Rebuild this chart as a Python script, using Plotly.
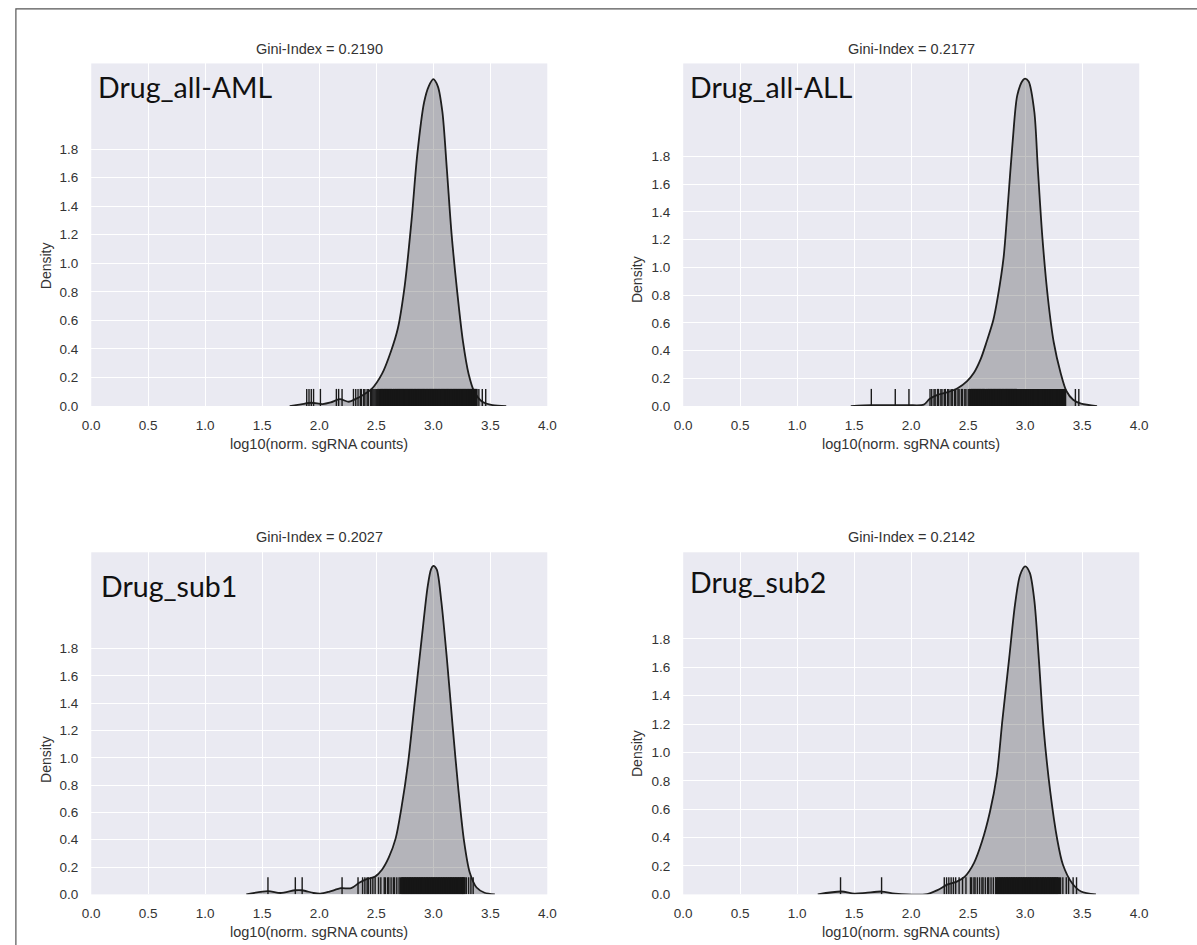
import plotly.graph_objects as go

W, H = 1197, 945

# ---------------- data ----------------
panel_labels = ["Drug_all-AML", "Drug_all-ALL", "Drug_sub1", "Drug_sub2"]
gini_values = ["0.2190", "0.2177", "0.2027", "0.2142"]

x_ticks = [0.0, 0.5, 1.0, 1.5, 2.0, 2.5, 3.0, 3.5, 4.0]
y_ticks = [0.0, 0.2, 0.4, 0.6, 0.8, 1.0, 1.2, 1.4, 1.6, 1.8]

# KDE curves
kde_x_aml = [1.74, 1.84, 1.93, 2.03, 2.10, 2.18, 2.26, 2.32, 2.38, 2.46, 2.55, 2.63, 2.69, 2.75, 2.81,
             2.86, 2.92, 2.96, 3.00, 3.04, 3.08, 3.12, 3.16, 3.21, 3.26, 3.31, 3.36, 3.43, 3.52, 3.64]
kde_y_aml = [0.0, 0.012, 0.023, 0.014, 0.025, 0.048, 0.030, 0.050, 0.076, 0.12, 0.225, 0.386, 0.547, 0.846, 1.306,
             1.766, 2.13, 2.24, 2.29, 2.24, 2.06, 1.65, 1.21, 0.80, 0.455, 0.225, 0.10, 0.03, 0.007, 0.0]

kde_x_all = [1.47, 1.65, 1.86, 1.98, 2.11, 2.16, 2.23, 2.32, 2.41, 2.49, 2.55, 2.61, 2.66, 2.72, 2.76,
             2.81, 2.85, 2.89, 2.93, 2.98, 3.00, 3.03, 3.08, 3.11, 3.15, 3.20, 3.25, 3.31, 3.36, 3.42, 3.49, 3.63]
kde_y_all = [0.0, 0.006, 0.006, 0.006, 0.01, 0.05, 0.08, 0.10, 0.13, 0.18, 0.24, 0.34, 0.46, 0.62, 0.79,
             1.07, 1.48, 1.91, 2.24, 2.35, 2.36, 2.34, 2.12, 1.72, 1.22, 0.77, 0.46, 0.24, 0.11, 0.045, 0.017, 0.0]

kde_x_sub1 = [1.36, 1.55, 1.66, 1.79, 1.85, 1.95, 2.01, 2.09, 2.19, 2.28, 2.35, 2.41, 2.49, 2.55, 2.61, 2.67,
              2.72, 2.78, 2.84, 2.90, 2.95, 2.98, 3.00, 3.03, 3.07, 3.12, 3.17, 3.22, 3.27, 3.32, 3.38, 3.45, 3.54]
kde_y_sub1 = [0.0, 0.024, 0.01, 0.03, 0.03, 0.01, 0.005, 0.02, 0.045, 0.045, 0.085, 0.11, 0.13, 0.18, 0.27, 0.41,
              0.63, 0.97, 1.43, 1.885, 2.25, 2.38, 2.405, 2.38, 2.15, 1.72, 1.23, 0.77, 0.39, 0.16, 0.05, 0.012, 0.0]

kde_x_sub2 = [1.18, 1.385, 1.50, 1.60, 1.74, 1.86, 2.14, 2.23, 2.32, 2.40, 2.47, 2.55, 2.62, 2.69, 2.75, 2.80,
              2.86, 2.91, 2.955, 3.00, 3.04, 3.08, 3.12, 3.16, 3.22, 3.28, 3.33, 3.41, 3.49, 3.62]
kde_y_sub2 = [0.0, 0.02, 0.005, 0.01, 0.02, 0.005, 0.002, 0.03, 0.07, 0.09, 0.125, 0.22, 0.37, 0.58, 0.835, 1.23,
              1.67, 2.04, 2.25, 2.31, 2.265, 2.07, 1.65, 1.18, 0.72, 0.39, 0.21, 0.08, 0.02, 0.0]

# rug positions: sparse tail ticks and the dense central block
rug_aml_sparse = [1.89, 1.91, 1.93, 1.95, 2.01, 2.15, 2.17, 2.20, 2.30, 2.32, 2.34, 2.36, 2.37, 2.39,
                  2.40, 2.42, 2.43, 2.45, 2.46, 2.47, 2.48, 2.49, 2.50, 2.51, 2.52, 3.40, 3.43, 3.46]
rug_aml_dense = [2.535, 2.55, 2.565, 2.58, 2.595, 2.61, 2.625, 2.64, 2.66, 2.675, 2.69, 2.705, 2.72, 2.735,
                 2.75, 2.765, 2.78, 2.795, 2.81, 2.825, 2.84, 2.855, 2.87, 2.885, 2.90, 2.915, 2.93, 2.945,
                 2.96, 2.975, 2.99, 3.005, 3.02, 3.035, 3.05, 3.065, 3.08, 3.095, 3.11, 3.125, 3.14, 3.155,
                 3.17, 3.185, 3.20, 3.215, 3.23, 3.245, 3.26, 3.275, 3.29, 3.305, 3.32, 3.335, 3.35, 3.365,
                 3.375]

rug_all_sparse = [1.65, 1.86, 1.98, 2.165, 2.18, 2.20, 2.21, 2.23, 2.24, 2.26, 2.27, 2.29, 2.30, 2.32,
                  2.33, 2.35, 2.36, 2.38, 2.39, 2.41, 2.42, 2.44, 2.45, 2.47, 2.48, 2.50, 2.51, 3.44, 3.47]
rug_all_dense = [2.525, 2.54, 2.555, 2.57, 2.585, 2.60, 2.615, 2.63, 2.645, 2.67, 2.685, 2.70, 2.715, 2.73,
                 2.745, 2.76, 2.775, 2.79, 2.805, 2.82, 2.835, 2.85, 2.865, 2.88, 2.895, 2.91, 2.925, 2.94,
                 2.955, 2.97, 2.985, 3.00, 3.015, 3.03, 3.045, 3.06, 3.075, 3.09, 3.105, 3.12, 3.135, 3.15,
                 3.165, 3.18, 3.195, 3.21, 3.225, 3.24, 3.255, 3.27, 3.285, 3.30, 3.315, 3.33, 3.345]

rug_sub1_sparse = [1.55, 1.79, 1.85, 2.20, 2.34, 2.38, 2.40, 2.42, 2.43, 2.45, 2.47, 2.49, 2.52, 2.54,
                   2.57, 2.58, 2.60, 2.61, 2.63, 2.65, 2.66, 2.68, 2.70, 3.29, 3.31, 3.33, 3.35]
rug_sub1_dense = [2.72, 2.735, 2.75, 2.765, 2.78, 2.795, 2.81, 2.825, 2.84, 2.855, 2.87, 2.885, 2.90, 2.915,
                  2.93, 2.945, 2.96, 2.975, 2.99, 3.005, 3.02, 3.035, 3.05, 3.065, 3.08, 3.095, 3.11, 3.125,
                  3.14, 3.155, 3.17, 3.185, 3.20, 3.215, 3.23, 3.245, 3.26, 3.27]

rug_sub2_sparse = [1.38, 1.74, 2.29, 2.31, 2.33, 2.35, 2.37, 2.39, 2.42, 2.45, 2.48, 2.52, 2.53, 2.55, 2.56,
                   2.58, 2.60, 2.62, 2.63, 2.65, 2.67, 2.68, 2.70, 2.72, 2.74, 3.31, 3.33, 3.36, 3.38, 3.42, 3.45]
rug_sub2_dense = [2.75, 2.765, 2.78, 2.795, 2.81, 2.825, 2.84, 2.855, 2.87, 2.885, 2.90, 2.915, 2.93, 2.945,
                  2.96, 2.975, 2.99, 3.005, 3.02, 3.035, 3.05, 3.065, 3.08, 3.095, 3.11, 3.125, 3.14, 3.155,
                  3.17, 3.185, 3.20, 3.215, 3.23, 3.245, 3.26, 3.275, 3.29]

y_max = [2.40, 2.47, 2.505, 2.41]

kde_x = [kde_x_aml, kde_x_all, kde_x_sub1, kde_x_sub2]
kde_y = [kde_y_aml, kde_y_all, kde_y_sub1, kde_y_sub2]
rugs_sparse = [rug_aml_sparse, rug_all_sparse, rug_sub1_sparse, rug_sub2_sparse]
rugs_dense = [rug_aml_dense, rug_all_dense, rug_sub1_dense, rug_sub2_dense]

# ---------------- layout (pixels) ----------------
px_x = [(83.5, 546.5), (684.5, 1147.5), (83.5, 546.5), (684.5, 1147.5)]
px_y = [(64, 409.5), (64, 409.5), (557, 902), (557, 902)]
label_pos = [(88, 88), (689, 88), (91, 591), (689, 587)]
density_pos = [(37, 268), (637, 282), (37, 766), (637, 760)]


def fx(p):
    return p / W


def fy(p):
    return 1 - p / H


TXT = "#333333"
BASEFONT = "Liberation Sans, Arial, sans-serif"

fig = go.Figure()
annotations = []
layout_axes = {}


def rug_xy(values, h):
    rx, ry = [], []
    for v in values:
        rx += [v, v, None]
        ry += [0, h, None]
    return rx, ry


for i in range(4):
    n = "" if i == 0 else str(i + 1)
    xa, ya = "x" + n, "y" + n
    # KDE fill + line
    fig.add_trace(go.Scatter(
        x=kde_x[i], y=kde_y[i], mode="lines", xaxis=xa, yaxis=ya,
        line=dict(color="#1e1e1e", width=1.8, shape="spline", smoothing=0.8),
        fill="tozeroy", fillcolor="rgba(0,0,0,0.23)", showlegend=False, hoverinfo="skip"))
    # rug
    h = 0.05 * y_max[i]
    rx, ry = rug_xy(rugs_dense[i], h)
    fig.add_trace(go.Scatter(
        x=rx, y=ry, mode="lines", xaxis=xa, yaxis=ya,
        line=dict(color="#161616", width=3.4),
        showlegend=False, hoverinfo="skip"))
    rx, ry = rug_xy(rugs_sparse[i], h)
    fig.add_trace(go.Scatter(
        x=rx, y=ry, mode="lines", xaxis=xa, yaxis=ya,
        line=dict(color="#1a1a1a", width=1.4),
        showlegend=False, hoverinfo="skip"))

    axis_common = dict(showgrid=True, gridcolor="white", gridwidth=1.3, zeroline=False,
                       showline=False, ticks="", tickfont=dict(family=BASEFONT, size=13.5, color=TXT),
                       tickformat=".1f")
    layout_axes["xaxis" + n] = dict(
        axis_common, range=[0, 4], tickvals=x_ticks, anchor=ya,
        domain=[fx(px_x[i][0]), fx(px_x[i][1])], ticklabelstandoff=9)
    layout_axes["yaxis" + n] = dict(
        axis_common, range=[0, y_max[i]], tickvals=y_ticks, anchor=xa,
        domain=[fy(px_y[i][1]), fy(px_y[i][0])], ticklabelstandoff=12)

    cx = (px_x[i][0] + px_x[i][1]) / 2
    annotations.append(dict(
        text="Gini-Index = " + gini_values[i], x=fx(cx), y=fy(px_y[i][0] - 15),
        xref="paper", yref="paper", showarrow=False, xanchor="center", yanchor="middle",
        font=dict(family=BASEFONT, size=14.5, color=TXT)))
    annotations.append(dict(
        text="log10(norm. sgRNA counts)", x=fx(cx), y=fy(px_y[i][1] + 38),
        xref="paper", yref="paper", showarrow=False, xanchor="center", yanchor="middle",
        font=dict(family=BASEFONT, size=14.5, color=TXT)))
    annotations.append(dict(
        text="Density", x=fx(density_pos[i][0]), y=fy(density_pos[i][1]), textangle=-90,
        xref="paper", yref="paper", showarrow=False, xanchor="center", yanchor="middle",
        font=dict(family=BASEFONT, size=14, color=TXT)))
    annotations.append(dict(
        text=panel_labels[i], x=fx(label_pos[i][0]), y=fy(label_pos[i][1]),
        xref="paper", yref="paper", showarrow=False, xanchor="left", yanchor="middle",
        font=dict(family="Lato, Open Sans, sans-serif", size=28.5, color="#111111")))

fig.update_layout(
    width=W, height=H, margin=dict(l=0, r=0, t=0, b=0),
    paper_bgcolor="white", plot_bgcolor="#EAEAF2",
    annotations=annotations,
    shapes=[dict(type="rect", xref="paper", yref="paper", x0=fx(7), x1=fx(1210),
                 y0=fy(960), y1=fy(9), line=dict(color="#555555", width=1.2),
                 fillcolor="rgba(0,0,0,0)", layer="above")],
    **layout_axes)

fig.write_html("out.html")
